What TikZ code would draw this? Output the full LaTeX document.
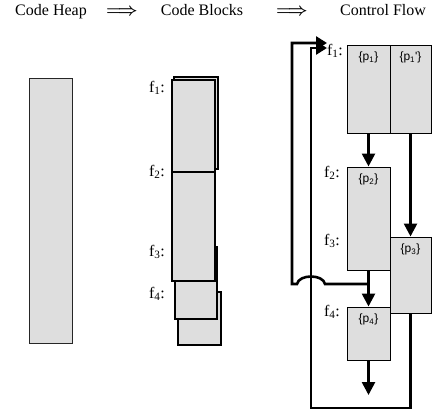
\documentclass[tikz,border=0pt]{standalone}
\usepackage{fontspec}
\setmainfont{Liberation Serif}
\newfontfamily\plabelfont{Liberation Sans}
\usetikzlibrary{arrows.meta,calc}
\definecolor{boxgray}{HTML}{DEDEDE}
\begin{document}
\begin{tikzpicture}[x=1pt,y=-1pt,
  heapbox/.style={draw=black!85, fill=boxgray, line width=1pt, inner sep=0pt},
  blockbox/.style={draw=black, fill=boxgray, line width=1.2pt, inner sep=0pt},
  flowbox/.style={draw=black, fill=boxgray, line width=1pt, inner sep=0pt},
  title/.style={font=\fontsize{16}{18}\selectfont, inner sep=0pt, anchor=base},
  implies/.style={font=\fontsize{16}{16}\selectfont\boldmath, inner sep=0pt, anchor=base},
  flabel/.style={font=\fontsize{16}{18}\selectfont, inner sep=0pt},
  plabel/.style={font=\plabelfont\fontsize{12}{13}\selectfont, inner sep=0pt},
  flow/.style={line width=2.6pt, -{Triangle[length=13pt,width=13pt]}},
  backarrow/.style={line width=2.6pt, -{Triangle[length=11pt,width=13pt]}}]
\useasboundingbox (0,0) rectangle (435,412);

% titles
\node[title] (t1) at (51,16) {Code Heap};
\node[implies] (a1) at (122,16) {$\Longrightarrow$};
\node[title] (t2) at (202,16) {Code Blocks};
\node[implies] (a2) at (292,16) {$\Longrightarrow$};
\node[title] (t3) at (383,16) {Control Flow};

% code heap
\node[heapbox, minimum width=43pt, minimum height=265pt] (heap) at (50.5,210.5) {};

% code blocks
\node[blockbox, minimum width=43pt, minimum height=53pt] (b4) at (199.5,318.5) {};
\node[blockbox, minimum width=42pt, minimum height=72pt] (b3) at (196,283) {};
\node[blockbox, minimum width=44pt, minimum height=92pt] (b1back) at (196,123) {};
\node[blockbox, minimum width=43pt, minimum height=92pt] (b1) at (193.5,126) {};
\node[blockbox, minimum width=43pt, minimum height=109pt] (b2) at (193.5,226.5) {};
\node[flabel] (bf1) at (157,88) {f\textsubscript{1}:};
\node[flabel] (bf2) at (157,172) {f\textsubscript{2}:};
\node[flabel] (bf3) at (157,252) {f\textsubscript{3}:};
\node[flabel] (bf4) at (157,294) {f\textsubscript{4}:};

% control flow boxes
\node[flowbox, minimum width=43pt, minimum height=88pt] (p1) at (368.5,89) {};
\node[flowbox, minimum width=41pt, minimum height=88pt] (p1b) at (410.5,89) {};
\node[flowbox, minimum width=43pt, minimum height=103pt] (p2) at (368.5,218.5) {};
\node[flowbox, minimum width=41pt, minimum height=76pt] (p3) at (410.5,275) {};
\node[flowbox, minimum width=43pt, minimum height=53pt] (p4) at (368.5,333.5) {};

\node[plabel, anchor=north] (l1) at ($(p1.north)+(0,7)$) {\{p\textsubscript{1}\}};
\node[plabel, anchor=north] (l1b) at ($(p1b.north)+(0,7)$) {\{p\textsubscript{1}'\}};
\node[plabel, anchor=north] (l2) at ($(p2.north)+(0,7)$) {\{p\textsubscript{2}\}};
\node[plabel, anchor=north] (l3) at ($(p3.north)+(0,7)$) {\{p\textsubscript{3}\}};
\node[plabel, anchor=north] (l4) at ($(p4.north)+(0,7)$) {\{p\textsubscript{4}\}};

\node[flabel] (cf1) at (335,51) {f\textsubscript{1}:};
\node[flabel] (cf2) at (332,173) {f\textsubscript{2}:};
\node[flabel] (cf3) at (332,241) {f\textsubscript{3}:};
\node[flabel] (cf4) at (332,312) {f\textsubscript{4}:};

% connectors
\coordinate (out4) at (368.5,395);
\coordinate (join) at (368.5,284);
\coordinate (tipa) at (327,43);
\coordinate (tipb) at (327,48);

\draw[flow] (p1.south) -- (p2.north);
\draw[flow] (p1b.south) -- (p3.north);
\draw[flow] (p2.south) -- (p4.north);
\draw[flow] (p4.south) -- (out4);

\draw[backarrow] (p3.south) |- (311,408) -- (311,48) -- (tipb);
\draw[backarrow] (join) -- (325,284)
   .. controls (323,274) and (299,274) .. (297,284)
   -- (292,284) -- (292,43) -- (tipa);
\end{tikzpicture}
\end{document}
